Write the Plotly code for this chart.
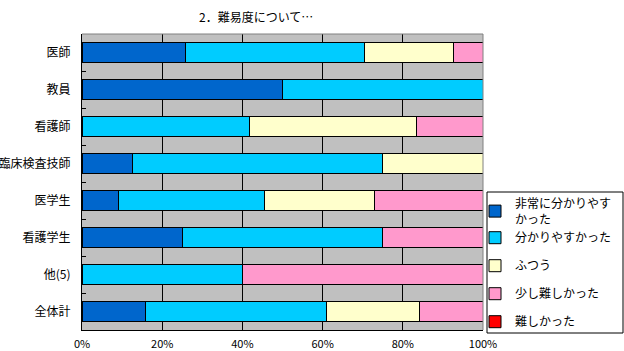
import plotly.graph_objects as go

categories = ["医師", "教員", "看護師", "臨床検査技師", "医学生", "看護学生", "他(5)", "全体計"]
series_names = ["非常に分かりやす<br>かった", "分かりやすかった", "ふつう", "少し難しかった", "難しかった"]
very_easy = [25.9, 50.0, 0.0, 12.5, 9.1, 25.0, 0.0, 15.9]
easy = [44.5, 50.0, 41.7, 62.5, 36.3, 50.0, 40.0, 45.0]
normal = [22.2, 0.0, 41.7, 25.0, 27.5, 0.0, 0.0, 23.2]
bit_hard = [7.4, 0.0, 16.6, 0.0, 27.1, 25.0, 60.0, 15.9]
hard = [0.0, 0.0, 0.0, 0.0, 0.0, 0.0, 0.0, 0.0]
colors = ["#0066CC", "#00CCFF", "#FFFFCC", "#FF99CC", "#FF0000"]
x_ticks = [0, 20, 40, 60, 80, 100]
x_labels = ["0%", "20%", "40%", "60%", "80%", "100%"]

series = [very_easy, easy, normal, bit_hard, hard]
groups = ["g1", "g1", "g2", "g3", "g4"]
ypos = list(range(len(categories)))

L, R, T, B = 82, 483, 34, 330
PW, PH = R - L, B - T


def px_x(p):
    return (p - L) / PW


def px_y(p):
    return (B - p) / PH


fig = go.Figure()
for name, vals, col, grp in zip(series_names, series, colors, groups):
    fig.add_trace(go.Bar(
        y=ypos, x=vals, name=name, orientation="h",
        marker=dict(color=col, line=dict(color="black", width=1)),
        legendgroup=grp, width=0.54,
    ))

fig.update_layout(
    barmode="stack",
    width=624, height=351,
    margin=dict(l=L, r=624 - R, t=T, b=351 - B, autoexpand=False),
    paper_bgcolor="white",
    plot_bgcolor="#C0C0C0",
    font=dict(family="Noto Sans CJK JP", size=12, color="black"),
    showlegend=True,
    legend=dict(
        x=px_x(475), xanchor="left", y=px_y(189), yanchor="top",
        borderwidth=0, bgcolor="rgba(0,0,0,0)",
        font=dict(size=12), tracegroupgap=9, traceorder="grouped",
        itemwidth=30,
    ),
    annotations=[dict(
        text="2．難易度について…", x=px_x(256), xref="paper", y=px_y(17), yref="paper",
        showarrow=False, font=dict(size=12), xanchor="center", yanchor="middle",
    )],
)

fig.update_xaxes(
    range=[0, 100], tickvals=x_ticks, ticktext=x_labels,
    showgrid=True, gridcolor="black", gridwidth=1,
    showline=True, linecolor="black", linewidth=1,
    ticks="outside", ticklen=4, tickcolor="rgba(0,0,0,0)",
    tickfont=dict(size=11), zeroline=False, automargin=False,
)
fig.update_yaxes(
    range=[len(categories) - 0.5, -0.5], tickvals=ypos, ticktext=categories,
    showgrid=False, showline=True, linecolor="black", linewidth=1,
    ticks="outside", ticklen=8, tickcolor="rgba(0,0,0,0)", zeroline=False, automargin=False,
    minor=dict(tickvals=[i + 0.5 for i in ypos[:-1]], ticks="inside", ticklen=4, tickcolor="black", showgrid=False),
)
fig.add_shape(type="line", xref="paper", yref="paper", x0=0, x1=1, y0=1, y1=1,
              line=dict(color="#808080", width=1))
fig.add_shape(type="line", xref="paper", yref="paper", x0=1, x1=1, y0=0, y1=1,
              line=dict(color="#808080", width=1))
# legend frame
fig.add_shape(type="rect", xref="paper", yref="paper",
              x0=px_x(487), x1=px_x(623), y0=px_y(333), y1=px_y(192),
              line=dict(color="black", width=1), fillcolor="rgba(0,0,0,0)", layer="above")

fig.write_html("out.html")
